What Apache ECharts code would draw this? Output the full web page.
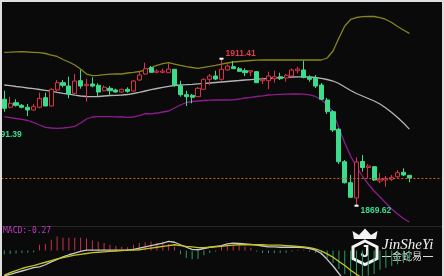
<!DOCTYPE html>
<html><head><meta charset="utf-8">
<script src="https://cdn.jsdelivr.net/npm/echarts@6/dist/echarts.min.js"></script>
<style>html,body{margin:0;padding:0;background:#0a0a0a;}#c{width:444px;height:276px;}</style>
</head><body><div id="c"></div>
<script>
const SLOTS = 75;
const open = [1899.87,1897.60,1898.90,1898.16,1897.60,1896.83,1897.60,1900.32,1897.96,1902.51,
1904.59,1903.65,1901.57,1905.16,1903.74,1904.22,1903.85,1902.31,1903.00,1902.51,
1901.94,1902.71,1902.23,1905.36,1907.06,1908.85,1907.55,1907.55,1907.43,1908.40,
1903.65,1901.18,1901.01,1900.61,1902.71,1905.56,1906.49,1905.56,1908.20,1909.14,
1908.57,1908.00,1907.63,1907.72,1905.16,1905.16,1905.73,1906.29,1905.92,1906.49,
1908.00,1908.20,1906.12,1905.84,1903.93,1899.67,1896.34,1891.34,1882.13,1876.16,
1871.81,1882.19,1880.48,1880.71,1876.64,1876.93,1877.13,1877.86,1879.12,1878.26];
const close = [1897.31,1898.73,1898.16,1897.60,1896.83,1897.77,1900.15,1897.96,1902.71,1904.59,
1903.85,1901.38,1905.07,1903.65,1904.13,1903.65,1901.94,1903.28,1902.31,1901.94,
1902.71,1902.14,1905.07,1906.78,1908.57,1907.55,1907.91,1907.91,1908.48,1903.85,
1901.18,1900.61,1900.44,1903.00,1905.56,1906.49,1905.64,1908.40,1909.34,1908.57,
1907.83,1907.43,1908.00,1904.59,1905.56,1906.49,1906.29,1905.73,1906.69,1908.20,
1908.48,1906.12,1905.56,1903.65,1899.87,1896.34,1891.14,1882.13,1876.16,1872.01,
1882.04,1880.48,1880.91,1876.93,1877.13,1877.41,1877.69,1879.00,1878.35,1877.49];
const low = [1896.34,1897.31,1897.77,1897.31,1895.12,1896.63,1897.31,1897.96,1897.77,1902.03,
1903.28,1900.15,1901.38,1902.88,1899.19,1903.28,1900.61,1902.14,1900.81,1901.75,
1901.75,1901.75,1902.03,1905.07,1906.86,1907.35,1907.26,1907.26,1907.43,1903.45,
1900.61,1897.96,1898.73,1900.52,1902.51,1903.93,1905.36,1905.16,1908.00,1908.57,
1907.63,1906.49,1906.49,1904.50,1904.22,1902.71,1904.59,1905.36,1904.87,1906.29,
1907.26,1905.84,1904.87,1903.08,1899.67,1895.69,1890.57,1881.47,1875.93,1871.95,
1869.62,1879.29,1877.41,1876.64,1875.99,1875.02,1876.64,1877.41,1878.06,1876.27];
const high = [1902.31,1900.61,1899.87,1898.53,1898.53,1898.53,1901.75,1901.75,1903.00,1905.36,
1905.36,1906.29,1907.06,1908.20,1905.73,1906.12,1904.42,1903.85,1903.65,1902.88,
1902.88,1903.28,1905.36,1907.72,1910.27,1909.34,1908.40,1908.60,1910.10,1908.40,
1905.16,1902.31,1901.38,1903.37,1905.84,1907.06,1908.00,1911.41,1909.82,1910.76,
1909.05,1908.68,1908.20,1907.91,1906.12,1907.72,1908.00,1907.43,1907.06,1908.68,
1909.14,1910.84,1906.69,1906.78,1904.50,1900.24,1896.83,1891.71,1882.61,1878.35,
1883.38,1884.03,1881.47,1880.91,1879.00,1878.06,1878.35,1879.77,1880.25,1878.35];
const bollUpper = [1913.23,1913.29,1913.37,1913.43,1913.32,1913.23,1913.12,1912.89,1912.46,1912.04,
1911.18,1910.47,1909.62,1908.48,1907.06,1906.58,1906.69,1906.86,1907.00,1907.06,
1907.06,1907.35,1907.55,1907.77,1908.20,1908.91,1909.54,1909.99,1910.27,1909.90,
1909.54,1909.19,1908.91,1908.68,1908.97,1909.25,1909.54,1909.90,1910.19,1910.47,
1910.62,1910.76,1910.90,1910.99,1911.04,1911.04,1911.04,1911.04,1911.04,1911.04,
1911.04,1911.04,1911.04,1911.04,1911.04,1911.61,1913.60,1917.30,1920.71,1922.56,
1923.12,1923.35,1923.47,1923.41,1923.12,1922.56,1921.70,1920.57,1919.57,1918.63];
const bollMid = [1903.93,1903.74,1903.51,1903.31,1903.08,1902.88,1902.66,1902.43,1902.17,1901.86,
1901.57,1901.32,1901.03,1900.81,1900.67,1900.61,1900.67,1900.81,1900.95,1901.01,
1901.09,1901.23,1901.52,1901.86,1902.23,1902.60,1902.94,1903.28,1903.57,1903.79,
1903.93,1904.02,1904.13,1904.28,1904.39,1904.50,1904.65,1904.79,1904.93,1905.07,
1905.21,1905.36,1905.47,1905.58,1905.70,1905.81,1905.92,1906.04,1906.12,1906.21,
1906.27,1906.27,1906.21,1906.07,1905.84,1905.50,1905.07,1904.36,1903.37,1902.37,
1901.52,1900.81,1900.10,1899.39,1898.53,1897.40,1896.12,1894.69,1893.13,1891.39];
const bollLower = [1894.92,1894.69,1894.41,1894.18,1893.84,1893.27,1892.56,1891.91,1891.71,1891.62,
1891.71,1891.91,1892.19,1893.13,1894.27,1894.84,1894.92,1894.92,1894.92,1894.89,
1894.84,1894.75,1894.84,1895.26,1895.83,1895.75,1895.97,1896.26,1896.54,1897.40,
1898.25,1898.96,1899.24,1899.39,1899.53,1899.61,1899.67,1899.67,1899.67,1899.73,
1899.95,1900.24,1900.44,1900.67,1900.86,1901.09,1901.18,1901.29,1901.35,1901.38,
1901.38,1901.32,1901.15,1900.67,1899.81,1898.25,1896.26,1891.71,1887.45,1883.75,
1880.62,1878.06,1875.79,1873.80,1872.09,1870.39,1868.68,1867.26,1865.98,1864.99];
const macdHist = [-0.09,-0.08,-0.07,-0.06,-0.05,-0.04,0.14,0.16,0.26,0.34,
0.31,0.31,0.31,0.31,0.29,0.24,0.21,0.18,0.14,0.11,
0.09,0.08,0.14,0.18,0.20,0.22,0.19,0.22,0.16,0.09,
-0.09,-0.18,-0.21,-0.20,-0.11,-0.06,-0.02,0.09,0.12,0.14,
0.12,0.09,0.07,-0.02,-0.06,-0.06,-0.06,-0.06,-0.05,-0.02,
0.02,0.02,-0.03,-0.06,-0.10,-0.18,-0.30,-0.44,-0.56,-0.64,
-0.66,-0.64,-0.60,-0.56,-0.46,-0.41,-0.37,-0.33,-0.30,-0.27];
const macdDif = [-0.61,-0.57,-0.53,-0.49,-0.45,-0.41,-0.39,-0.34,-0.27,-0.21,
-0.15,-0.10,-0.06,-0.02,0.01,0.01,0.01,0.01,0.01,0.01,
0.01,0.01,0.03,0.06,0.09,0.12,0.15,0.18,0.22,0.20,
0.14,0.08,0.03,0.02,0.05,0.08,0.10,0.12,0.16,0.18,
0.17,0.16,0.15,0.13,0.11,0.09,0.09,0.08,0.08,0.08,
0.08,0.07,0.05,0.01,-0.07,-0.21,-0.37,-0.55,-0.73,-0.88,
-1.00,-1.08,-1.14,-1.18,-1.20,-1.21,-1.21,-1.20,-1.19,-1.17];
const macdDea = [-0.59,-0.53,-0.48,-0.43,-0.39,-0.36,-0.32,-0.28,-0.24,-0.20,
-0.17,-0.14,-0.11,-0.09,-0.07,-0.05,-0.04,-0.03,-0.02,-0.01,
0.00,0.01,0.01,0.02,0.04,0.06,0.08,0.10,0.12,0.14,
0.12,0.10,0.09,0.07,0.07,0.08,0.09,0.10,0.12,0.13,
0.14,0.14,0.14,0.14,0.14,0.13,0.13,0.13,0.12,0.11,
0.10,0.09,0.07,0.04,-0.01,-0.08,-0.16,-0.26,-0.36,-0.47,
-0.57,-0.66,-0.74,-0.81,-0.87,-0.92,-0.96,-0.99,-1.01,-1.03];
const lastPrice = 1877.30;
const midLabel = '1891.39';
const macdLabel = 'MACD:-0.27';

const BG = '#0a0a0a';
const UP = '#d8334a';
const DOWN = '#3ddc8c';
const cats = Array.from({length: SLOTS}, (_, i) => String(i));
const kData = open.map((o, i) => [o, close[i], low[i], high[i]]);
let hiIdx = 0, loIdx = 0;
high.forEach((v, i) => { if (v > high[hiIdx]) hiIdx = i; });
low.forEach((v, i) => { if (v < low[loIdx]) loIdx = i; });

const chart = echarts.init(document.getElementById('c'), null, {renderer: 'canvas'});
const lineS = (data, color, w) => ({type: 'line', data, symbol: 'none', lineStyle: {color, width: w}, silent: true, z: 3});
chart.setOption({
  animation: false,
  backgroundColor: BG,
  grid: [
    {left: 1.37, right: 2.38, top: 0, height: 226},
    {left: 1.37, right: 2.38, top: 226, height: 60}
  ],
  xAxis: [
    {type: 'category', data: cats, gridIndex: 0, show: false},
    {type: 'category', data: cats, gridIndex: 1, show: false}
  ],
  yAxis: [
    {type: 'value', gridIndex: 0, min: 1863.85, max: 1928.10, show: false},
    {type: 'value', gridIndex: 1, min: -0.61, max: 0.59, show: false}
  ],
  series: [
    lineS(bollUpper, '#86861a', 1.3),
    lineS(bollMid, '#b4b4b4', 1.3),
    lineS(bollLower, '#8e1c8e', 1.3),
    {
      type: 'candlestick', data: kData, barWidth: 4.6, z: 4,
      itemStyle: {color: BG, color0: DOWN, borderColor: UP, borderColor0: DOWN, borderWidth: 1},
      markLine: {
        silent: true, symbol: 'none', label: {show: false},
        lineStyle: {color: '#c8661a', type: [2, 2], width: 1},
        data: [{yAxis: lastPrice}]
      },
      markPoint: {
        symbol: 'rect', symbolSize: [4, 2],
        itemStyle: {color: '#ffffff'},
        data: [
          {coord: [hiIdx, high[hiIdx]], value: high[hiIdx].toFixed(2),
           label: {show: true, position: 'right', distance: 2, offset: [0, -5], color: '#e03a50', fontSize: 8.5, fontWeight: 'bold', fontFamily: 'Liberation Sans, Arial'}},
          {coord: [loIdx, low[loIdx]], value: low[loIdx].toFixed(2),
           label: {show: true, position: 'right', distance: 2, offset: [0, 5], color: '#3ddc8c', fontSize: 8.5, fontWeight: 'bold', fontFamily: 'Liberation Sans, Arial'}}
        ]
      }
    },
    {
      type: 'bar', xAxisIndex: 1, yAxisIndex: 1, barWidth: 1, silent: true,
      data: macdHist.map(v => ({value: v, itemStyle: {color: v >= 0 ? '#c8324a' : '#2e9e64'}}))
    },
    Object.assign(lineS(macdDif, '#c8c8c8', 1.3), {xAxisIndex: 1, yAxisIndex: 1}),
    Object.assign(lineS(macdDea, '#c4c41e', 1.3), {xAxisIndex: 1, yAxisIndex: 1})
  ],
  graphic: [
    {type: 'line', shape: {x1: 0, y1: 226.5, x2: 444, y2: 226.5}, style: {stroke: '#262626', lineWidth: 1}, silent: true},
    {type: 'text', x: -9, y: 134.5, style: {text: midLabel, fill: '#3ddc8c', font: 'bold 8.5px "Liberation Sans", Arial', textVerticalAlign: 'middle'}},
    {type: 'text', x: 3, y: 231, style: {text: macdLabel, fill: '#c23cc2', font: '8px "DejaVu Sans Mono", monospace', textVerticalAlign: 'middle'}},
    {type: 'polygon', shape: {points: [[354,239],[376,239],[377.5,231],[371,235],[365,228.5],[359,235],[352.5,231]]}, style: {fill: '#f2f2f2'}},
    {type: 'polygon', shape: {points: [[365,241],[377,247],[377,258.5],[365,264.5],[353,258.5],[353,247]]}, style: {fill: 'none', stroke: '#f2f2f2', lineWidth: 3}},
    {type: 'text', x: 365, y: 253, style: {text: 'J', fill: '#f2f2f2', font: 'bold 16px "Liberation Sans", Arial', textAlign: 'center', textVerticalAlign: 'middle'}},
    {type: 'text', x: 382, y: 245, style: {text: 'JinSheYi', fill: '#f2f2f2', font: 'italic 15px "Liberation Serif", serif', textVerticalAlign: 'middle'}},
    {type: 'line', shape: {x1: 382, y1: 256.5, x2: 391, y2: 256.5}, style: {stroke: '#dcdcdc', lineWidth: 1}},
    {type: 'line', shape: {x1: 423, y1: 256.5, x2: 433, y2: 256.5}, style: {stroke: '#dcdcdc', lineWidth: 1}},
    {type: 'text', x: 407, y: 256.5, style: {text: '金蛇易', fill: '#dcdcdc', font: '10px "Noto Sans CJK SC"', textAlign: 'center', textVerticalAlign: 'middle'}},
    {type: 'line', shape: {x1: 0, y1: 1, x2: 444, y2: 1}, style: {stroke: '#dedede', lineWidth: 2}, z: 100},
    {type: 'line', shape: {x1: 1, y1: 0, x2: 1, y2: 276}, style: {stroke: '#dedede', lineWidth: 2}, z: 100},
    {type: 'line', shape: {x1: 443, y1: 0, x2: 443, y2: 276}, style: {stroke: '#dedede', lineWidth: 2}, z: 100}
  ]
});
</script></body></html>
